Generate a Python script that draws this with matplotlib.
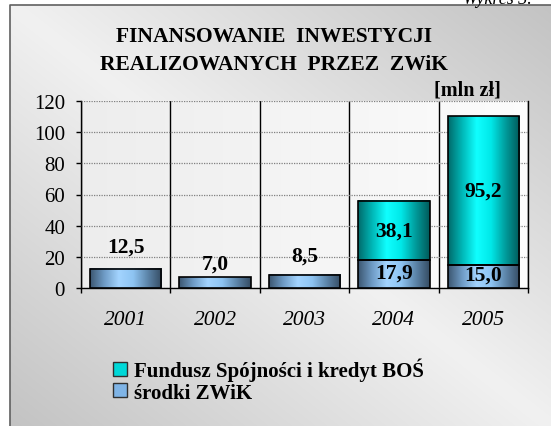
import numpy as np
import matplotlib
matplotlib.use("Agg")
import matplotlib.pyplot as plt
from matplotlib.colors import LinearSegmentedColormap
from matplotlib.patches import Patch

# ---- data ----
years = ["2001", "2002", "2003", "2004", "2005"]
srodki_zwik = [12.5, 7.0, 8.5, 17.9, 15.0]
fundusz = [0.0, 0.0, 0.0, 38.1, 95.2]
srodki_labels = ["12,5", "7,0", "8,5", "17,9", "15,0"]
fundusz_labels = ["", "", "", "38,1", "95,2"]
yticks = [0, 20, 40, 60, 80, 100, 120]
series_names = ["Fundusz Spójności i kredyt BOŚ", "środki ZWiK"]
title = "FINANSOWANIE  INWESTYCJI\nREALIZOWANYCH  PRZEZ  ZWiK"
unit = "[mln zł]"

# label placement for single bars (points above bar top)
above_offsets = [16, 10, 13.5, 0, 0]

W, H = 551, 427
fig = plt.figure(figsize=(W / 100, H / 100), dpi=100)
fig.patch.set_facecolor("white")

# ---- panel background gradient ----
bg = fig.add_axes([0, 0, 1, 1])
bg.set_xlim(0, W)
bg.set_ylim(H, 0)
bg.axis("off")
px0, py0 = 10, 6
u = np.linspace(0, 1, 300)
v = np.linspace(0, 1, 300)
U, V = np.meshgrid(u, v)
val = 0.945 - 0.18 * np.abs(U - V)
img = np.dstack([val, val, val])
bg.imshow(img, extent=[px0, W, H, py0], aspect="auto", interpolation="bilinear", zorder=0)
bg.plot([px0, px0, W], [H, py0, py0], color="#606060", lw=1.2, zorder=1)
bg.text(463, 4, "Wykres 3.", fontsize=13, family="Liberation Serif", style="italic",
        ha="left", va="baseline", zorder=2)

# ---- title ----
fig.text(274 / W, 1 - 51 / H, title, ha="center", va="center", fontsize=15.5,
         family="Liberation Serif", weight="bold", linespacing=1.58)
fig.text(467 / W, 1 - 91 / H, unit, ha="center", va="center", fontsize=14.5,
         family="Liberation Serif", weight="bold")

# ---- main axes ----
ax = fig.add_axes([81 / W, 1 - 289 / H, (528 - 81) / W, (289 - 102) / H])
ax.set_xlim(-0.5, 4.5)
ax.set_ylim(0, 120)

# plot-area light gradient
pa = np.linspace(0.93, 0.99, 200)
pimg = np.dstack([np.tile(pa, (50, 1))] * 3)
ax.imshow(pimg, extent=[-0.5, 4.5, 0, 120], aspect="auto", zorder=0)

x = np.arange(len(years))
blue_cmap = LinearSegmentedColormap.from_list(
    "b", ["#3c5670", "#6f9cc6", "#a3d4ff", "#8ec4f2", "#5d86aa", "#354c63"])
teal_cmap = LinearSegmentedColormap.from_list(
    "t", ["#006a6a", "#00b8b8", "#10ffff", "#00e8e8", "#009c9c", "#005a5a"])
grad = np.linspace(0, 1, 256).reshape(1, -1)

b1 = ax.bar(x, srodki_zwik, width=0.8, facecolor="none", edgecolor="black", lw=1.2, zorder=4)
b2 = ax.bar(x, fundusz, width=0.8, bottom=srodki_zwik, facecolor="none",
            edgecolor="black", lw=1.2, zorder=4)
for bars, cmap in ((b1, blue_cmap), (b2, teal_cmap)):
    for r in bars:
        if r.get_height() <= 0:
            r.set_visible(False)
            continue
        x0, y0, w, h = r.get_x(), r.get_y(), r.get_width(), r.get_height()
        ax.imshow(grad, cmap=cmap, extent=[x0, x0 + w, y0, y0 + h], aspect="auto",
                  zorder=3, interpolation="bilinear")

ax.set_xlim(-0.5, 4.5)
ax.set_ylim(0, 120)

# value labels
lab_kw = dict(ha="center", va="center", fontsize=15.5, family="Liberation Serif",
              weight="bold", zorder=6)
for i, r in enumerate(b1):
    if fundusz[i] > 0:
        ax.text(x[i], srodki_zwik[i] / 2 + 1, srodki_labels[i], **lab_kw)
    else:
        ax.annotate(srodki_labels[i], (x[i], srodki_zwik[i]), xytext=(0, above_offsets[i]),
                    textcoords="offset points", **lab_kw)
for i, r in enumerate(b2):
    if fundusz[i] > 0:
        ax.text(x[i], srodki_zwik[i] + fundusz[i] / 2, fundusz_labels[i], **lab_kw)

# grid & spines
ax.set_yticks(yticks)
ax.yaxis.grid(True, color="#808080", linestyle=(0, (1, 1)), lw=0.9, zorder=1)
ax.set_xticks(x)
ax.set_xticks(np.arange(-0.5, 4.6, 1.0), minor=True)
ax.xaxis.grid(True, which="minor", color="black", lw=1.0, zorder=2)
ax.set_xticklabels(years, fontsize=15.5, family="Liberation Serif", style="italic")
ax.tick_params(axis="x", which="major", length=0, pad=16)
ax.tick_params(axis="x", which="minor", length=3.5, width=1.0, direction="out")
ax.tick_params(axis="y", length=3.5, width=1.0, pad=8, labelsize=15)
for lab in ax.get_yticklabels():
    lab.set_family("Liberation Serif")
ax.spines["top"].set_visible(False)
for s in ("left", "right", "bottom"):
    ax.spines[s].set_color("black")
    ax.spines[s].set_linewidth(1.0)
ax.set_axisbelow(False)

# legend
handles = [Patch(facecolor="#00d8d8", edgecolor="#303030", lw=1.0),
           Patch(facecolor="#7fb4e6", edgecolor="#303030", lw=1.0)]
fig.legend(handles, series_names, loc="upper left", bbox_to_anchor=(113 / W, 1 - 359 / H),
           frameon=False, prop=dict(family="Liberation Serif", weight="bold", size=15),
           handlelength=0.65, handleheight=0.65, handletextpad=0.35, labelspacing=0.05,
           borderpad=0, borderaxespad=0)

fig.savefig("out.png", dpi=100)
